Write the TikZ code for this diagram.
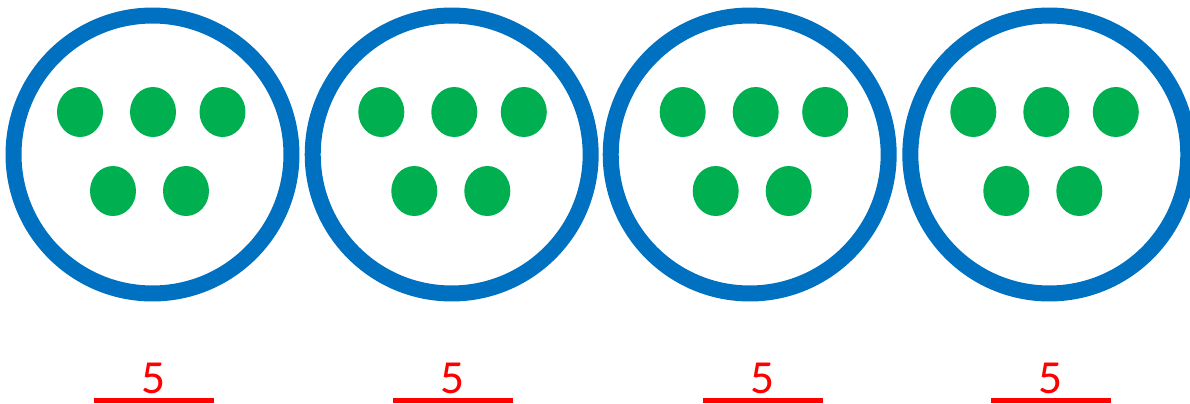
\documentclass[tikz,border=0pt]{standalone}
\usepackage{fontspec}
\setmainfont{Carlito}
\usepackage{xcolor}
\usepackage{tikz}
\usetikzlibrary{positioning, calc}

\definecolor{ringblue}{HTML}{0070C0}
\definecolor{dotgreen}{HTML}{00B050}
\definecolor{markred}{HTML}{FF0000}

\begin{document}
\begin{tikzpicture}[x=0.02cm,y=-0.02cm,
    ring/.style={circle, draw=ringblue, line width=0.32cm, minimum size=5.56cm, inner sep=0pt},
    dot/.style={fill=dotgreen},
    bar/.style={draw=markred, line width=0.09cm},
    count/.style={text=markred, font=\fontsize{27}{30}\selectfont, anchor=base, inner sep=0pt}]
  \useasboundingbox (0,0) rectangle (1190,403);
  % four groups of five, each with its count underneath
  \foreach \i/\cx/\dx/\lx in {
    1/152.5/153.0/154.0,
    2/451.7/454.3/453.0,
    3/749.7/755.7/762.5,
    4/1049.3/1046.3/1051.0
  }{
    \node[ring] (grp\i) at (\cx,154.5) {};
    % top row of three, bottom row of two
    \foreach \ox/\oy in {-73/112, 0/112, 69.5/112, -40/191, 33/191}
      \fill[dot] (\dx+\ox,\oy) ellipse [x radius=0.46cm, y radius=0.5cm];
    \node[count] (num\i) at (\lx,393) {5};
    \draw[bar] (\lx-60,400.3) -- (\lx+60,400.3);
  }
\end{tikzpicture}
\end{document}
